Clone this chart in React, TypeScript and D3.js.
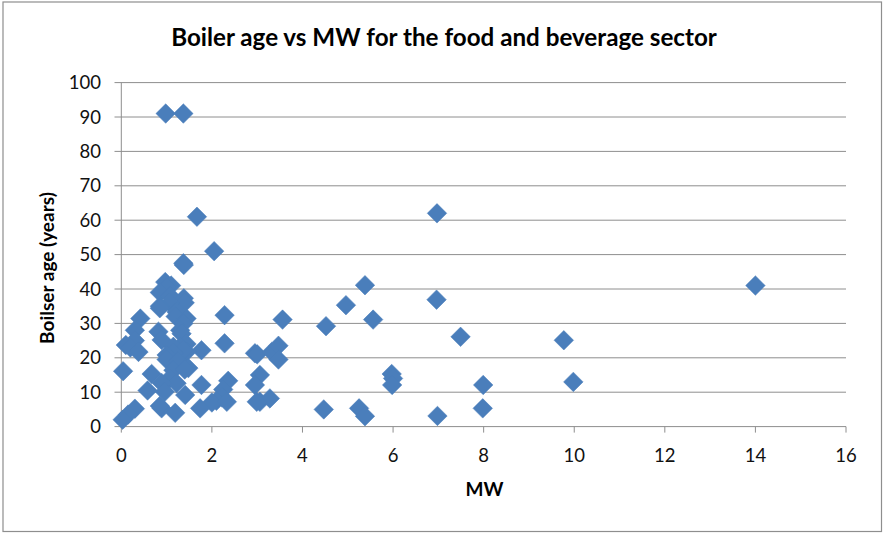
import React from "react";
import * as d3 from "d3";

const title = "Boiler age vs MW for the food and beverage sector";
const xAxisTitle = "MW";
const yAxisTitle = "Boilser age (years)";
const xTicks = [0, 2, 4, 6, 8, 10, 12, 14, 16];
const yTicks = [0, 10, 20, 30, 40, 50, 60, 70, 80, 90, 100];

// Boiler capacity (MW)
const mw = [
  0.98, 1.37, 1.67, 2.05, 6.97, 14.0,
  1.37, 1.38,
  0.97, 1.1, 1.0, 0.85, 1.08, 1.38, 1.4, 1.07, 0.85, 0.85, 1.22, 1.2, 2.28, 1.44, 0.42, 1.37, 1.3, 0.3,
  0.82, 1.33, 0.89, 0.3, 2.28, 1.44, 0.1, 0.2, 1.3, 1.15, 1.77, 1.44, 1.37, 0.38, 1.15, 1.0, 1.0, 1.25,
  1.48, 1.15, 1.4, 0.04, 0.67, 1.07, 1.22, 0.89, 1.77, 2.36, 0.58, 0.96, 2.25, 1.41, 2.22, 2.1, 2.0, 2.33,
  0.89, 0.85, 1.74, 1.19, 0.3, 0.15, 0.03,
  2.95, 3.0, 3.32, 3.47, 3.47, 3.56, 3.06, 2.95, 3.06, 3.28, 2.99,
  4.52, 4.96, 5.38, 5.56, 4.47, 5.25, 5.38, 5.97, 6.0, 5.98,
  6.96, 7.49, 9.77, 7.99, 9.98, 7.98, 6.98,
];

// Boiler age (years)
const age = [
  91, 91, 61, 51, 62, 41,
  47.5, 47,
  42, 41, 40.5, 39, 38, 37.3, 36, 36, 35, 34.4, 33.3, 32, 32.4, 31.4, 31.4, 30, 28, 28,
  27.6, 27, 25.2, 25, 24.2, 24, 23.7, 23, 23.2, 23.2, 22.2, 21.7, 22.3, 21.7, 21.4, 20.8, 19.5, 19,
  17, 16.4, 16.6, 16.1, 15.3, 14, 12.6, 12.7, 12.1, 13.3, 10.5, 10.1, 10.8, 9.2, 8.5, 7.5, 7, 7.2,
  5.3, 6, 5.3, 4, 5.2, 3.5, 2,
  21.3, 21, 21.7, 23.5, 19.5, 31.1, 15, 12.1, 7.2, 8.2, 7.2,
  29.2, 35.3, 41.1, 31.1, 5, 5.3, 3, 15.3, 14, 12.1,
  36.9, 26.1, 25.1, 12.1, 13, 5.3, 3.1,
];

const W = 883;
const H = 533;
const FONT = "Lato, 'Open Sans', sans-serif";
const GRID = "#8e8e8e";
const MARK = "#4a7ebb";

export default function App() {
  const x = d3.scaleLinear().domain([0, 16]).range([121.3, 846]);
  const y = d3.scaleLinear().domain([0, 100]).range([426.6, 82.6]);
  const diamond = d3.symbol().type(d3.symbolSquare).size(190)();
  const points = mw.map((v, i) => ({ x: v, y: age[i] }));

  return (
    <svg
      width={W}
      height={H}
      style={{ position: "absolute", left: 0, top: 0, background: "#fff" }}
    >
      <rect x={0} y={0} width={W} height={H} fill="#fff" />
      <rect x={3} y={2} width={878.5} height={529.5} fill="#fff" stroke={GRID} strokeWidth={1.2} />

      {/* gridlines and y ticks */}
      {yTicks.map((t) => (
        <g key={"y" + t}>
          <line x1={114.5} x2={x(16)} y1={y(t)} y2={y(t)} stroke={GRID} strokeWidth={1} />
          <text
            x={101}
            y={y(t)}
            dy="0.36em"
            textAnchor="end"
            fontFamily={FONT}
            fontSize={18.5}
            fill="#111"
          >
            {t}
          </text>
        </g>
      ))}

      {/* y axis line */}
      <line x1={x(0)} x2={x(0)} y1={y(100)} y2={y(0)} stroke={GRID} strokeWidth={1} />

      {/* x ticks */}
      {xTicks.map((t) => (
        <g key={"x" + t}>
          <line x1={x(t)} x2={x(t)} y1={y(0)} y2={y(0) + 6} stroke={GRID} strokeWidth={1} />
          <text
            x={x(t)}
            y={462}
            textAnchor="middle"
            fontFamily={FONT}
            fontSize={18.5}
            fill="#111"
          >
            {t}
          </text>
        </g>
      ))}

      {/* points */}
      {points.map((p, i) => (
        <path
          key={i}
          d={diamond || ""}
          transform={`translate(${x(p.x)},${y(p.y)}) rotate(45)`}
          fill={MARK}
          stroke={MARK}
          strokeWidth={0.5}
        />
      ))}

      {/* titles */}
      <text
        x={444}
        y={46}
        textAnchor="middle"
        fontFamily={FONT}
        fontWeight="bold"
        fontSize={24.2}
        fill="#000"
      >
        {title}
      </text>
      <text
        x={484.5}
        y={496}
        textAnchor="middle"
        fontFamily={FONT}
        fontWeight="bold"
        fontSize={19}
        fill="#000"
      >
        {xAxisTitle}
      </text>
      <text
        transform={`translate(54,268) rotate(-90)`}
        textAnchor="middle"
        fontFamily={FONT}
        fontWeight="bold"
        fontSize={19}
        fill="#000"
      >
        {yAxisTitle}
      </text>
    </svg>
  );
}
